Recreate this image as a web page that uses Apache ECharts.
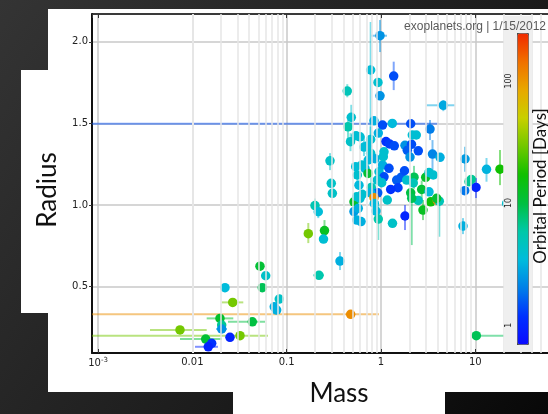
<!DOCTYPE html>
<html><head><meta charset="utf-8">
<script src="https://cdn.jsdelivr.net/npm/echarts@6/dist/echarts.min.js"></script>
<style>html,body{margin:0;padding:0;background:#1a1a1a}#c{width:548px;height:414px}</style>
</head><body><div id="c"></div>
<script>
// Planet mass (x), radius (y), orbital period (colour)
const mass = [
0.976, 0.777, 0.929, 0.439, 0.976, 1.364, 4.58, 0.484, 0.843, 0.447,
1.037, 1.318, 2.065, 3.31, 0.936, 0.543, 0.599, 0.475, 0.777, 1.130,
1.230, 1.384, 1.797, 2.106, 2.147, 2.367, 2.486, 1.901, 2.030, 3.517,
4.224, 7.779, 13.15, 18.28, 0.288, 0.660, 0.716, 0.777, 0.733, 0.864,
0.676, 0.539, 0.728, 0.952, 1.042, 1.216, 1.076, 0.914, 0.561, 0.297,
0.305, 0.584, 0.789, 1.467, 1.642, 1.775, 2.239, 2.979, 3.228, 3.585,
2.200, 1.873, 1.514, 2.065, 2.702, 3.228, 1.267, 8.577, 9.07, 7.72,
10.17, 0.923, 0.777, 0.633, 0.517, 0.843, 1.166, 0.1996, 0.2163, 3.365,
3.954, 4.152, 2.486, 2.117, 2.788, 1.797, 1.324, 7.405, 21.5, 0.553,
0.599, 0.517, 0.574, 0.553, 0.614, 0.849, 0.885, 0.936, 0.1695, 0.2517,
0.2456, 0.3675, 0.2201, 0.0521, 0.0599, 0.02216, 0.0551, 0.02676, 0.0834, 0.0738,
0.0783, 0.01962, 0.02045, 0.02045, 0.0432, 0.00739, 0.0320, 0.02504, 0.01384, 0.01602,
0.01474, 0.477, 10.25, 1.017, 0.624, 1.058, 1.076, 3.896
];
const radius = [
2.037, 1.827, 1.751, 1.698, 1.669, 1.790, 1.611, 1.537, 1.516, 1.479,
1.490, 1.500, 1.498, 1.465, 1.441, 1.424, 1.418, 1.388, 1.402, 1.389,
1.374, 1.363, 1.366, 1.372, 1.429, 1.429, 1.332, 1.335, 1.294, 1.312,
1.292, 1.282, 1.219, 1.220, 1.271, 1.355, 1.361, 1.317, 1.276, 1.284,
1.225, 1.235, 1.194, 1.204, 1.245, 1.225, 1.173, 1.153, 1.184, 1.133,
1.072, 1.122, 1.108, 1.153, 1.171, 1.210, 1.171, 1.170, 1.200, 1.184,
1.135, 1.153, 1.106, 1.075, 1.096, 1.081, 1.096, 1.143, 1.157, 1.088,
1.108, 1.075, 1.075, 1.066, 1.020, 1.045, 1.031, 0.997, 0.959, 1.020,
1.028, 1.024, 1.028, 1.041, 0.969, 0.933, 0.888, 0.871, 1.010, 1.051,
1.041, 0.960, 0.980, 0.908, 0.899, 1.010, 0.963, 0.914, 0.825, 0.844,
0.792, 0.657, 0.570, 0.626, 0.567, 0.494, 0.494, 0.404, 0.424, 0.377,
0.357, 0.306, 0.265, 0.241, 0.285, 0.235, 0.200, 0.190, 0.179, 0.153,
0.132, 0.331, 0.200, 1.137, 1.245, 1.296, 1.326, 1.041
];
const period = [
2.4, 3.6, 4.0, 5, 2.4, 1.45, 2.9, 4.0, 3.1, 5.6,
1.45, 3.4, 1.45, 2.0, 3.1, 3.8, 3.8, 4.3, 3.8, 1.2,
1.3, 1.45, 2.4, 1.45, 3.8, 3.8, 1.45, 1.6, 2.4, 2.1,
3.1, 2.6, 3.2, 17, 4.3, 3.6, 3.6, 4.0, 3.4, 3.1,
3.4, 3.6, 11, 3.8, 3.1, 1.45, 1.45, 4.0, 4.0, 4.3,
4.3, 3.4, 5, 1.6, 1.6, 1.45, 9, 12, 4.0, 4.0,
5, 4.0, 1.3, 10, 11, 3.4, 1.2, 6.5, 6.5, 1.9,
1.0, 1.6, 3.2, 4.0, 12, 110, 4.3, 5.3, 3.6, 16,
110, 5, 5, 9, 13, 1.0, 4.3, 3.1, 4.0, 4.0,
3.8, 2.6, 3.1, 3.1, 3.1, 3.4, 3.4, 5.6, 30, 13,
3.8, 3.1, 5.6, 11, 4.3, 3.5, 9, 30, 4.3, 3.1,
3.1, 12, 6.5, 2.4, 10, 30, 30, 1.0, 11, 1.2,
1.0, 110, 9, 4.0, 3.8, 4.0, 4.0, 11
];
// Horizontal (mass) error bars: planet index, low, high
const xErrIndex = [0, 6, 12, 102, 107, 111, 113, 114, 115, 116, 118, 120, 121, 122];
const xErrLo    = [0.783, 3.052, 0.0005, 0.190, 0.02045, 0.01418, 0.0178, 0.02385, 0.003552, 0.0005, 0.00739, 0.01066, 0.0005, 10.25];
const xErrHi    = [1.158, 6.09, 4.12, 0.2486, 0.03465, 0.02715, 0.02328, 0.0589, 0.01418, 0.0633, 0.02045, 0.01868, 0.952, 40];
// Vertical (radius) error bars: planet index, low, high
const yErrIndex = [0, 1, 3, 5, 6, 7, 13, 29, 31, 32, 33, 34, 70, 81, 83, 84, 85, 87, 97, 98, 99, 101, 9, 17, 18, 35, 43, 52, 56, 64, 48, 78, 77];
const yErrLo    = [1.937, 1.337, 1.66, 1.704, 1.575, 1.459, 1.398, 1.214, 1.204, 1.143, 1.122, 1.214, 1.043, 0.806, 0.755, 0.908, 0.847, 0.822, 0.786, 0.767, 0.786, 0.602, 1.40, 1.33, 1.30, 1.30, 1.14, 1.05, 1.10, 1.04, 1.12, 0.92, 0.96];
const yErrHi    = [2.133, 2.121, 1.74, 1.878, 1.643, 1.614, 1.521, 1.398, 1.357, 1.288, 1.337, 1.318, 1.165, 1.055, 1.092, 1.031, 1.0, 0.920, 1.0, 0.890, 0.908, 0.712, 1.52, 1.44, 1.48, 1.42, 1.27, 1.17, 1.24, 1.15, 1.25, 1.00, 1.04];

const xDecades = [0.001, 0.01, 0.1, 1, 10];
const xMinorMult = [2, 3, 4, 5, 6, 7, 8, 9];
const periodRange = [0.7, 247];

const xMinorTicks = [];
xDecades.forEach(d => xMinorMult.forEach(k => xMinorTicks.push(+(d * k).toPrecision(3))));

const logP = period.map(p => Math.log10(p));
const points = mass.map((m, i) => [m, radius[i], logP[i]]);
const errData = [];
xErrIndex.forEach((idx, k) => errData.push([mass[idx], radius[idx], logP[idx], xErrLo[k], xErrHi[k], radius[idx], radius[idx]]));
yErrIndex.forEach((idx, k) => errData.push([mass[idx], radius[idx], logP[idx], mass[idx], mass[idx], yErrLo[k], yErrHi[k]]));

function xLabel(v) {
  const l = Math.log10(v);
  if (Math.abs(l - Math.round(l)) > 1e-6) return '';
  const r = Math.round(l);
  if (r === -3) return '10{s|-3}';
  if (r === -2) return '0.01';
  if (r === -1) return '0.1';
  return String(Math.pow(10, r));
}

const chart = echarts.init(document.getElementById('c'));
const option = {
  animation: false,
  backgroundColor: new echarts.graphic.LinearGradient(0, 0, 1, 1, [
    {offset: 0, color: '#343434'}, {offset: 0.6, color: '#1c1c1c'}, {offset: 1, color: '#080808'}
  ]),
  graphic: [
    {type: 'rect', z: -10, shape: {x: 48, y: 9, width: 500, height: 383}, style: {fill: '#ffffff'}},
    {type: 'rect', z: -10, shape: {x: 21, y: 70, width: 30, height: 243}, style: {fill: '#ffffff'}},
    {type: 'rect', z: -10, shape: {x: 233, y: 390, width: 212, height: 24}, style: {fill: '#ffffff'}},
    {type: 'rect', z: 10, shape: {x: 504, y: 16, width: 28, height: 336}, style: {fill: '#efefef'}},
    {type: 'text', z: 15, x: 546, y: 27, style: {text: 'exoplanets.org | 1/15/2012', fill: '#5a5a5a', font: '12px "Liberation Sans"', textAlign: 'right', textVerticalAlign: 'middle'}},
    {type: 'text', z: 15, x: 48, y: 190, rotation: Math.PI / 2, style: {text: 'Radius', fill: '#111', font: '26px Lato', textAlign: 'center', textVerticalAlign: 'middle'}},
    {type: 'text', z: 15, x: 339, y: 394, style: {text: 'Mass', fill: '#111', font: '26px Lato', textAlign: 'center', textVerticalAlign: 'middle'}},
    {type: 'text', z: 15, x: 541, y: 186, rotation: Math.PI / 2, style: {text: 'Orbital Period [Days]', fill: '#111', font: '17px Lato', textAlign: 'center', textVerticalAlign: 'middle'}}
  ],
  grid: [
    {left: 92, top: 14, width: 477.6, height: 339, show: true, backgroundColor: 'transparent', borderColor: '#222', borderWidth: 1, outerBoundsMode: 'none', containLabel: false},
    {left: 517, top: 33, width: 11, height: 311, outerBoundsMode: 'none', containLabel: false}
  ],
  xAxis: [
    {type: 'log', gridIndex: 0, min: 0.000862, max: 100, logBase: 10,
     axisLine: {lineStyle: {color: '#111', width: 2}},
     axisTick: {inside: true, length: 4, lineStyle: {color: '#333'}},
     axisLabel: {formatter: xLabel, color: '#222', fontSize: 10, fontFamily: 'DejaVu Sans', margin: 4,
       showMinLabel: false, rich: {s: {fontSize: 7, verticalAlign: 'top', color: '#222', fontFamily: 'DejaVu Sans', padding: [0, 0, 6, 0]}}},
     splitLine: {show: true, lineStyle: {color: '#c8c8c8', width: 1.5}}},
    {type: 'log', gridIndex: 0, position: 'top', min: 0.000862, max: 100, logBase: 10,
     axisLine: {lineStyle: {color: '#111', width: 1.5}},
     axisTick: {inside: true, length: 4, lineStyle: {color: '#333'}},
     axisLabel: {show: false}, splitLine: {show: false}},
    {type: 'value', gridIndex: 1, show: false}
  ],
  yAxis: [
    {type: 'value', gridIndex: 0, min: 0.094, max: 2.17,
     axisLine: {lineStyle: {color: '#111', width: 2}},
     axisTick: {inside: false, length: 3, lineStyle: {color: '#333'}},
     axisLabel: {color: '#222', fontSize: 10, fontFamily: 'DejaVu Sans', margin: 4, showMinLabel: false, showMaxLabel: false,
       formatter: v => (Math.abs(v * 2 - Math.round(v * 2)) < 1e-6 ? v.toFixed(1) : '')},
     splitLine: {show: true, lineStyle: {color: '#c8c8c8', width: 1.5}}},
    {type: 'log', gridIndex: 1, min: periodRange[0], max: periodRange[1], logBase: 10, z: 25,
     axisLine: {show: false},
     axisTick: {show: true, inside: true, length: 3, lineStyle: {color: '#222'}},
     minorTick: {show: true, length: 2, lineStyle: {color: '#222'}},
     axisLabel: {rotate: 90, color: '#222', fontSize: 8, fontFamily: 'DejaVu Sans', margin: 4,
       formatter: v => { const l = Math.log10(v); return Math.abs(l - Math.round(l)) < 1e-6 ? String(Math.round(v)) : ''; }},
     splitLine: {show: false}}
  ],
  visualMap: {
    type: 'continuous', min: Math.log10(periodRange[0]), max: Math.log10(periodRange[1]),
    dimension: 2, seriesIndex: [1, 2], orient: 'vertical',
    left: 517, top: 33, itemWidth: 11, itemHeight: 311, padding: 0,
    calculable: false, hoverLink: false, text: null, showLabel: false,
    borderColor: '#555', borderWidth: 1, z: 30,
    inRange: {color: ['#0a0aff', '#0030ff', '#0080e8', '#00bcdc', '#00c8a8', '#00c040', '#10c000', '#70c800', '#c8d000', '#e8a800', '#f07000', '#f02a00']}
  },
  series: [
    {type: 'scatter', xAxisIndex: 0, yAxisIndex: 0, data: [], z: 1, silent: true,
     markLine: {silent: true, symbol: ['none', 'none'], label: {show: false}, animation: false,
       lineStyle: {color: '#e6e6e6', width: 1.5, type: 'solid'},
       emphasis: {disabled: true},
       data: xMinorTicks.map(v => ({xAxis: v}))}},
    {type: 'custom', xAxisIndex: 0, yAxisIndex: 0, data: errData, clip: true, z: 2, silent: true,
     encode: {x: 0, y: 1},
     renderItem: function (params, api) {
       const x = api.value(0), y = api.value(1);
       const c = api.visual('color');
       const ch = [];
       if (api.value(3) !== api.value(4)) {
         const a = api.coord([api.value(3), y]), b = api.coord([api.value(4), y]);
         ch.push({type: 'line', shape: {x1: a[0], y1: a[1], x2: b[0], y2: b[1]}, style: {stroke: c, lineWidth: 2, opacity: 0.5}});
       }
       if (api.value(5) !== api.value(6)) {
         const a = api.coord([x, api.value(5)]), b = api.coord([x, api.value(6)]);
         ch.push({type: 'line', shape: {x1: a[0], y1: a[1], x2: b[0], y2: b[1]}, style: {stroke: c, lineWidth: 2, opacity: 0.5}});
       }
       return {type: 'group', children: ch};
     }},
    {type: 'scatter', xAxisIndex: 0, yAxisIndex: 0, data: points, symbol: 'circle', symbolSize: 9.5, z: 3,
     encode: {x: 0, y: 1}, itemStyle: {opacity: 1}}
  ]
};
chart.setOption(option);
</script>
</body></html>
